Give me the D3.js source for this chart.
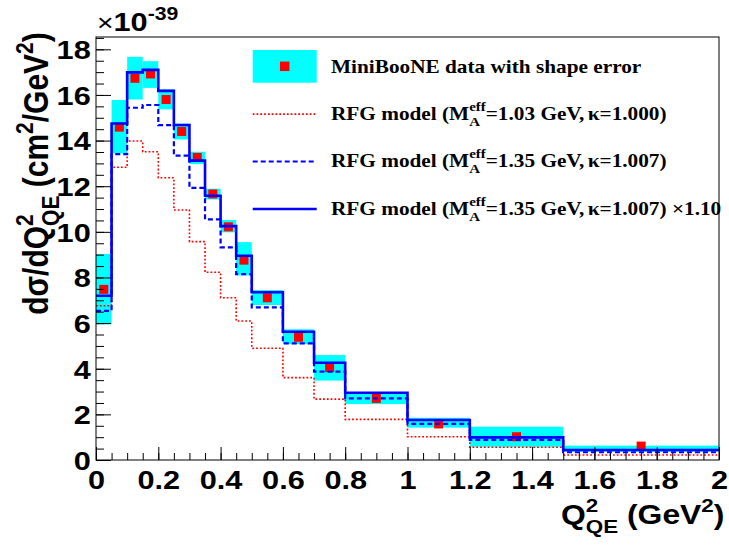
<!DOCTYPE html>
<html>
<head>
<meta charset="utf-8">
<script src="https://cdn.jsdelivr.net/npm/d3@7"></script>
<style>
  body { margin: 0; background: #fff; }
  .sans { font-family: "Liberation Sans", Arial, sans-serif; font-weight: bold; }
  .serif { font-family: "Liberation Serif", "Times New Roman", serif; font-weight: bold; }
</style>
</head>
<body>
<div id="chart"></div>
<script>
// bin edges in Q2 (GeV^2)
const edges = [0, 0.05, 0.1, 0.15, 0.2, 0.25, 0.3, 0.35, 0.4, 0.45, 0.5, 0.6, 0.7, 0.8, 1.0, 1.2, 1.5, 2.0];
// MiniBooNE data (x1e-39 cm^2/GeV^2) and shape error band
const dataVals = [7.48, 14.59, 16.73, 16.92, 15.8, 14.4, 13.26, 11.66, 10.22, 8.76, 7.11, 5.38, 4.05, 2.70, 1.58, 1.02, 0.61];
const errLo    = [5.95, 13.44, 15.8, 16.31, 15.37, 14.05, 12.97, 11.42, 9.98, 8.09, 6.79, 5.08, 3.48, 2.45, 1.42, 0.58, 0.36];
const errHi    = [9.03, 15.78, 17.67, 17.48, 16.24, 14.74, 13.51, 11.89, 10.52, 9.55, 7.45, 5.73, 4.6, 2.97, 1.85, 1.46, 0.63];
// RFG model predictions
const rfg103   = [6.76, 12.83, 13.98, 13.51, 12.37, 10.96, 9.57, 8.23, 7.11, 6.09, 4.9, 3.61, 2.67, 1.78, 1.02, 0.56, 0.22];
const rfg135   = [6.54, 13.41, 15.44, 15.56, 14.68, 13.34, 11.93, 10.55, 9.32, 8.15, 6.69, 5.11, 3.87, 2.70, 1.58, 0.88, 0.34];
const rfg135x  = [7.2, 14.75, 16.99, 17.1, 16.18, 14.68, 13.12, 11.58, 10.25, 8.95, 7.35, 5.62, 4.26, 2.95, 1.75, 0.99, 0.44];
// ticks
const xMajor = [0, 0.2, 0.4, 0.6, 0.8, 1.0, 1.2, 1.4, 1.6, 1.8, 2.0];
const xLabels = ["0", "0.2", "0.4", "0.6", "0.8", "1", "1.2", "1.4", "1.6", "1.8", "2"];
const yMajor = [0, 2, 4, 6, 8, 10, 12, 14, 16, 18];
const yLabels = ["0", "2", "4", "6", "8", "10", "12", "14", "16", "18"];

const WIDTH = 729, HEIGHT = 546;
const M = { top: 37, right: 10, bottom: 86, left: 96 };
const SX = 1.18;   // glyphs in the original are drawn wide
const LSX = 1.15;

const svg = d3.select("#chart").append("svg")
  .attr("width", WIDTH).attr("height", HEIGHT);

const x = d3.scaleLinear().domain([0, 2]).range([M.left, WIDTH - M.right]);
const y = d3.scaleLinear().domain([0, 18.54]).range([HEIGHT - M.bottom, M.top]);

const bins = dataVals.map((v, i) => ({ x0: edges[i], x1: edges[i + 1], v, lo: errLo[i], hi: errHi[i] }));

// shape error boxes
svg.append("g").selectAll("rect").data(bins).join("rect")
  .attr("x", d => x(d.x0)).attr("width", d => x(d.x1) - x(d.x0))
  .attr("y", d => y(d.hi)).attr("height", d => y(d.lo) - y(d.hi))
  .attr("fill", "#00ffff");

// data points
const SQ = 9;
svg.append("g").selectAll("rect").data(bins).join("rect")
  .attr("x", d => x((d.x0 + d.x1) / 2) - SQ / 2).attr("y", d => y(d.v) - SQ / 2)
  .attr("width", SQ).attr("height", SQ).attr("fill", "#ff0000");

// model histograms
const step = d3.line().x(d => x(d[0])).y(d => y(d[1])).curve(d3.curveStepAfter);
const pts = vals => edges.map((e, i) => [e, vals[Math.min(i, vals.length - 1)]]);

svg.append("path").attr("d", step(pts(rfg103)))
  .attr("fill", "none").attr("stroke", "#ff0000").attr("stroke-width", 1.6).attr("stroke-dasharray", "1.8,2");
svg.append("path").attr("d", step(pts(rfg135)))
  .attr("fill", "none").attr("stroke", "#0000ff").attr("stroke-width", 2.2).attr("stroke-dasharray", "5,3");
svg.append("path").attr("d", step(pts(rfg135x)))
  .attr("fill", "none").attr("stroke", "#0000ff").attr("stroke-width", 2.6);

// frame
svg.append("rect").attr("x", M.left).attr("y", M.top)
  .attr("width", WIDTH - M.left - M.right).attr("height", HEIGHT - M.top - M.bottom)
  .attr("fill", "none").attr("stroke", "#000").attr("stroke-width", 1);

// axes (ticks drawn inside the frame, ROOT style)
const yMinor = d3.range(0, 18.51, 0.5);
const xMinor = d3.range(0, 2.001, 0.05);

svg.append("g").attr("transform", `translate(${M.left},0)`)
  .call(d3.axisLeft(y).tickValues(yMinor).tickSize(-8).tickSizeOuter(0).tickFormat(""))
  .call(a => a.select(".domain").remove());
const yAx = svg.append("g").attr("class", "sans").attr("transform", `translate(${M.left},0)`)
  .call(d3.axisLeft(y).tickValues(yMajor).tickSize(-15).tickSizeOuter(0).tickPadding(4.5)
    .tickFormat((d, i) => yLabels[i]))
  .call(a => a.select(".domain").remove());
yAx.selectAll("text").attr("font-size", 26).attr("fill", "#000")
  .attr("dy", "0.36em").attr("transform", `scale(${SX},1)`);

svg.append("g").attr("transform", `translate(0,${HEIGHT - M.bottom})`)
  .call(d3.axisBottom(x).tickValues(xMinor).tickSize(-7).tickSizeOuter(0).tickFormat(""))
  .call(a => a.select(".domain").remove());
const xAx = svg.append("g").attr("class", "sans").attr("transform", `translate(0,${HEIGHT - M.bottom})`)
  .call(d3.axisBottom(x).tickValues(xMajor).tickSize(-13).tickSizeOuter(0)
    .tickFormat((d, i) => xLabels[i]))
  .call(a => a.select(".domain").remove());
xAx.selectAll("text").attr("font-size", 26).attr("fill", "#000")
  .attr("y", 29.3).attr("dy", null).attr("transform", `scale(${SX},1)`);
svg.selectAll(".tick line").attr("stroke", "#000");

// x10^-39 multiplier
const mult = svg.append("text").attr("class", "sans")
  .attr("transform", `translate(97,31) scale(${SX},1)`);
mult.append("tspan").attr("font-size", 24).attr("font-weight", "normal").text("×");
mult.append("tspan").attr("font-size", 26).text("10");
mult.append("tspan").attr("font-size", 18).attr("dy", -11).text("-39");

// helper: stacked super/subscript after the current text
function stacked(t, sup, sub, size, supDy, subDy) {
  const a = t.append("tspan").attr("font-size", size).attr("dy", -supDy).text(sup);
  const wa = a.node().getComputedTextLength();
  const b = t.append("tspan").attr("font-size", size).attr("dx", -wa).attr("dy", supDy + subDy).text(sub);
  const wb = b.node().getComputedTextLength();
  return { back: -subDy, gap: Math.max(wa - wb, 0) };
}

// x axis title
const xt = svg.append("text").attr("class", "sans")
  .attr("transform", `translate(561,523.5) scale(${SX},1)`).attr("font-size", 27);
xt.append("tspan").text("Q");
let s = stacked(xt, "2", "QE", 19, 12, 9);
xt.append("tspan").attr("dx", s.gap).attr("dy", s.back).text(" (GeV");
xt.append("tspan").attr("font-size", 19).attr("dy", -12).text("2");
xt.append("tspan").attr("dy", 12).text(")");

// y axis title
const yt = svg.append("text").attr("class", "sans")
  .attr("transform", `translate(48,173.5) scale(${SX},1) rotate(-90)`)
  .attr("text-anchor", "middle").attr("font-size", 30);
yt.append("tspan").text("dσ/dQ");
s = stacked(yt, "2", "QE", 21, 13, 9);
yt.append("tspan").attr("dx", s.gap).attr("dy", s.back).text(" (cm");
yt.append("tspan").attr("font-size", 21).attr("dy", -13).text("2");
yt.append("tspan").attr("dy", 13).text("/GeV");
yt.append("tspan").attr("font-size", 21).attr("dy", -13).text("2");
yt.append("tspan").attr("dy", 13).text(")");

// legend
const legX0 = 252.7, legX1 = 316.7, txtX = 331;
const rows = [72.7, 119.6, 167, 214.5];
svg.append("rect").attr("x", legX0).attr("y", 50).attr("width", legX1 - legX0).attr("height", 32.7)
  .attr("fill", "#00ffff");
svg.append("rect").attr("x", (legX0 + legX1) / 2 - 4.75).attr("y", 66.3 - 4.75)
  .attr("width", 9.5).attr("height", 9.5).attr("fill", "#ff0000");
svg.append("text").attr("class", "serif").attr("font-size", 18.5)
  .attr("transform", `translate(${txtX},${rows[0]}) scale(${LSX},1)`)
  .text("MiniBooNE data with shape error");

const models = [
  { ma: "1.03", k: "1.000", tail: "", color: "#ff0000", w: 1.6, dash: "1.8,2" },
  { ma: "1.35", k: "1.007", tail: "", color: "#0000ff", w: 2.2, dash: "5,3" },
  { ma: "1.35", k: "1.007", tail: " ×1.10", color: "#0000ff", w: 2.6, dash: null }
];
models.forEach((m, i) => {
  const by = rows[i + 1];
  svg.append("line").attr("x1", legX0).attr("x2", legX1).attr("y1", by - 5.5).attr("y2", by - 5.5)
    .attr("stroke", m.color).attr("stroke-width", m.w).attr("stroke-dasharray", m.dash);
  const t = svg.append("text").attr("class", "serif").attr("font-size", 18.5)
    .attr("transform", `translate(${txtX},${by}) scale(${LSX},1)`);
  t.append("tspan").text("RFG model (M");
  const st = stacked(t, "eff", "A", 13, 9, 6);
  t.append("tspan").attr("dx", st.gap).attr("dy", st.back).text(`=${m.ma} GeV,`);
  t.append("tspan").attr("dx", 3).text("κ");
  t.append("tspan").text(`=${m.k})`);
  if (m.tail) t.append("tspan").text(m.tail);
});
</script>
</body>
</html>
